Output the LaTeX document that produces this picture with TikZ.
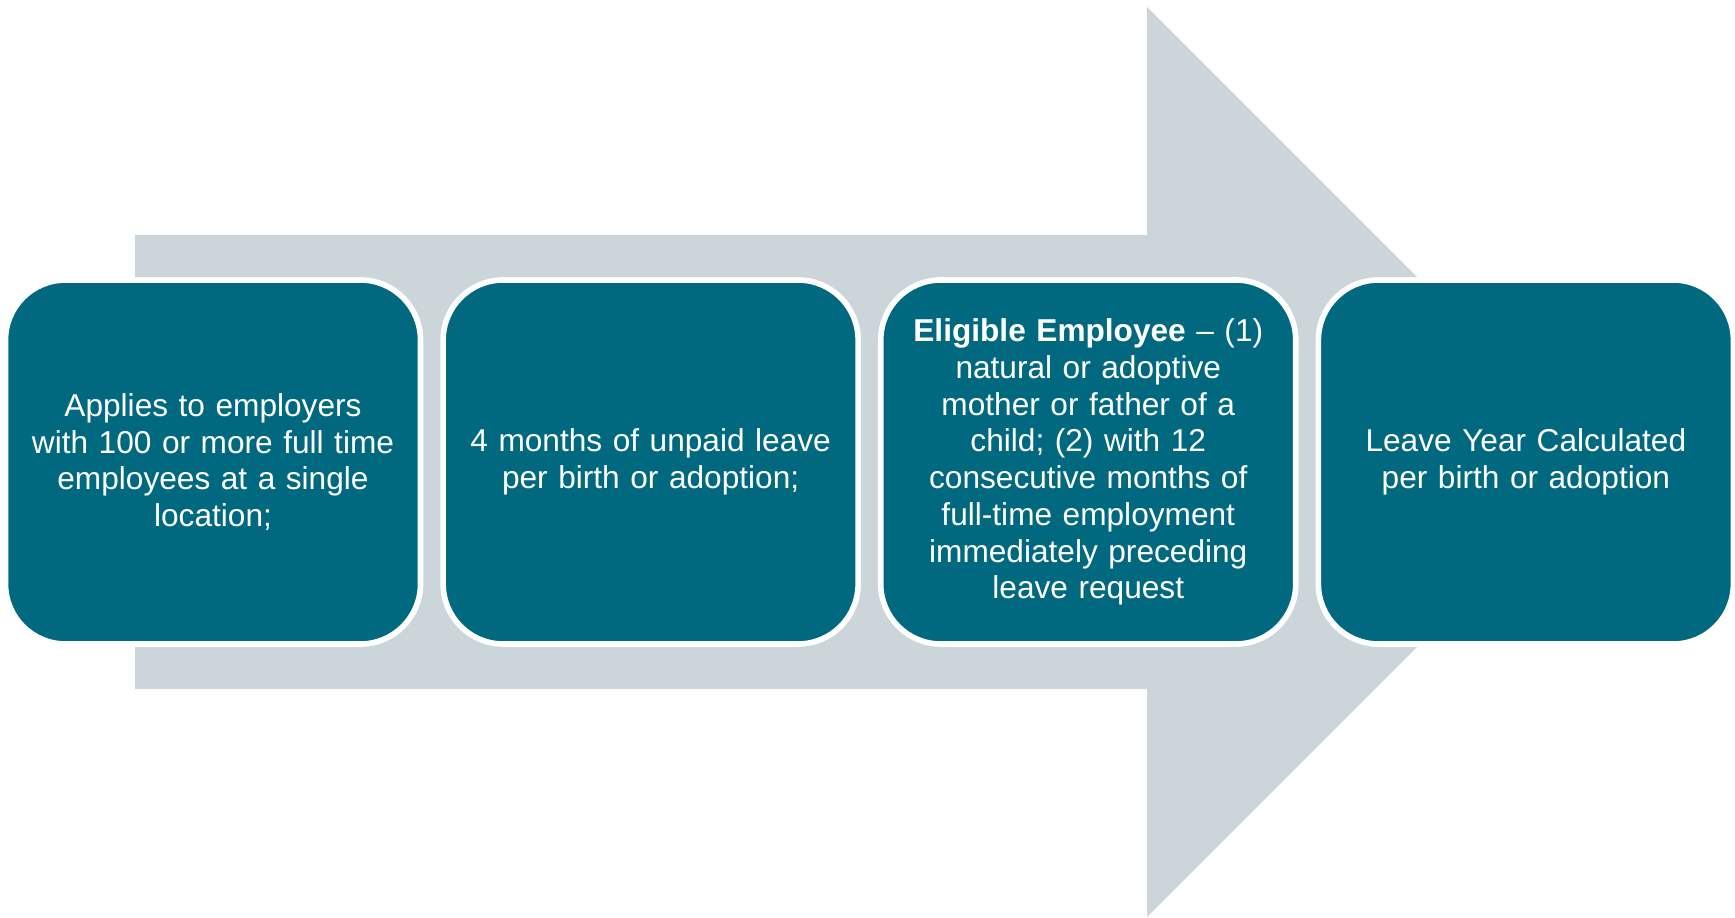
\documentclass[tikz,border=0pt]{standalone}
\usepackage{fontspec}
\setmainfont{Liberation Sans}
\usetikzlibrary{positioning}
\definecolor{leaveteal}{RGB}{0,105,128}
\definecolor{arrowgray}{RGB}{204,213,218}
\tikzset{
  stepbox/.style={rectangle, rounded corners=0.6cm, fill=leaveteal, draw=white,
    line width=1.6pt, minimum width=4.15cm, minimum height=3.64cm,
    text width=3.8cm, align=center, text=white,
    font=\fontsize{9}{10.45}\selectfont}
}

\begin{document}
\begin{tikzpicture}
	\useasboundingbox (0,0) rectangle (17.35,9.17);
% big arrow in the back
\fill[arrowgray] (1.35,6.82) -- (11.47,6.82) -- (11.47,9.10)
  -- (16.02,4.55) -- (11.47,0.00) -- (11.47,2.28) -- (1.35,2.28) -- cycle;
% the four steps
\node[stepbox] (employers) at (2.13,4.55)
  {Applies to employers\\ with 100 or more full time\\ employees at a single\\ location;};
\node[stepbox, right=0.17cm of employers] (unpaid)
  {4 months of unpaid leave\\ per birth or adoption;};
\node[stepbox, right=0.17cm of unpaid] (eligible)
  {\textbf{Eligible Employee} -- (1)\\ natural or adoptive\\ mother or father of a\\
   child; (2) with 12\\ consecutive months of\\ full-time employment\\
   immediately preceding\\ leave request};
\node[stepbox, right=0.17cm of eligible] (leaveyear)
  {Leave Year Calculated\\ per birth or adoption};
\end{tikzpicture}
\end{document}
